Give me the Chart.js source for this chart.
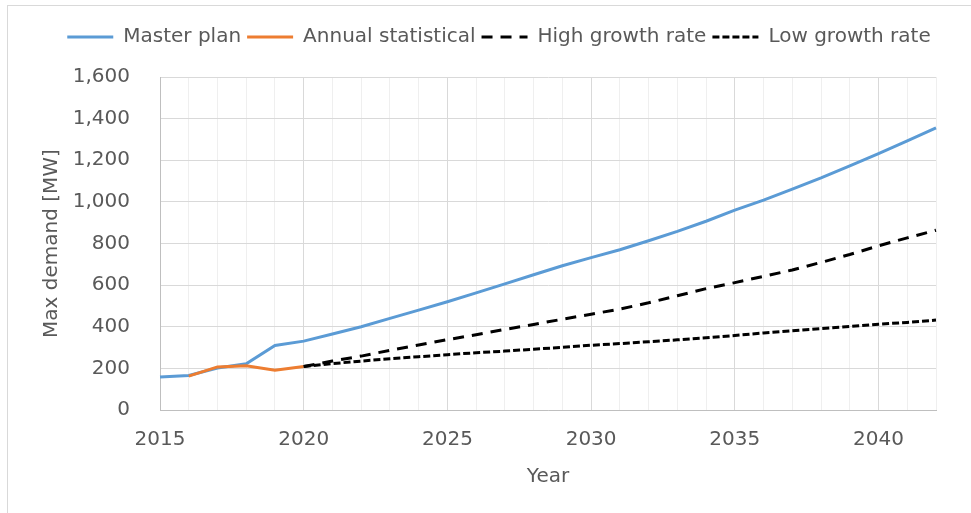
<!DOCTYPE html>
<html>
<head>
<meta charset="utf-8">
<script src="https://cdn.jsdelivr.net/npm/chart.js@4/dist/chart.umd.min.js"></script>
<style>
  html, body { margin: 0; padding: 0; background: #fff; }
  #wrap { position: relative; width: 971px; height: 513px; }
  #frame { position: absolute; left: 7px; top: 5px; width: 980px; height: 520px;
           border-left: 1px solid #d9d9d9; border-top: 1px solid #d9d9d9; pointer-events: none; }
</style>
</head>
<body>
<div id="wrap">
  <canvas id="c" width="971" height="513"></canvas>
  <div id="frame"></div>
</div>
<script>
const years = [2015,2016,2017,2018,2019,2020,2021,2022,2023,2024,2025,2026,2027,2028,
               2029,2030,2031,2032,2033,2034,2035,2036,2037,2038,2039,2040,2041,2042];
const xTickLabels = [2015, 2020, 2025, 2030, 2035, 2040];
const yTicks = [0, 200, 400, 600, 800, 1000, 1200, 1400, 1600];

const masterPlan = [158,166,202,222,310,331,365,400,440,480,520,563,606,650,
                    693,732,770,813,858,907,960,1008,1061,1115,1173,1232,1293,1355];
const annualStatistical = [null,163,207,213,191,209,null,null,null,null,null,null,null,null,
                           null,null,null,null,null,null,null,null,null,null,null,null,null,null];
const highGrowth = [null,null,null,null,null,209,235,259,287,312,338,362,387,411,
                    436,460,485,515,549,583,612,642,673,709,747,789,827,864];
const lowGrowth = [null,null,null,null,null,209,223,235,246,256,266,275,283,292,
                   301,311,319,328,337,347,358,370,381,391,401,412,421,432];

const FONT = "'DejaVu Sans', Verdana, sans-serif";
const TXT = '#595959';

const legendShift = {
  id: 'legendShift',
  afterLayout(chart) {
    const lg = chart.legend;
    if (lg) { lg.top -= 20; lg.bottom -= 20; }
  }
};

new Chart(document.getElementById('c'), {
  type: 'line',
  data: {
    labels: years,
    datasets: [
      { label: 'Master plan', data: masterPlan, borderColor: '#5B9BD5', backgroundColor: '#5B9BD5',
        borderWidth: 3, pointRadius: 0, tension: 0, order: 4 },
      { label: 'Annual statistical', data: annualStatistical, borderColor: '#ED7D31', backgroundColor: '#ED7D31',
        borderWidth: 3, pointRadius: 0, tension: 0, order: 3 },
      { label: 'High growth rate', data: highGrowth, borderColor: '#000000', backgroundColor: '#000000',
        borderWidth: 3, borderDash: [11, 8], pointRadius: 0, tension: 0, order: 2 },
      { label: 'Low growth rate', data: lowGrowth, borderColor: '#000000', backgroundColor: '#000000',
        borderWidth: 3, borderDash: [7, 3], pointRadius: 0, tension: 0, order: 1 }
    ]
  },
  plugins: [legendShift],
  options: {
    responsive: false,
    animation: false,
    spanGaps: false,
    layout: { padding: { left: 27, right: 0, top: 12, bottom: 0 } },
    plugins: {
      legend: {
        position: 'top',
        labels: {
          usePointStyle: true,
          pointStyle: 'line',
          pointStyleWidth: 46,
          padding: 6,
          color: TXT,
          font: { family: FONT, size: 20 },
          sort: (a, b) => a.datasetIndex - b.datasetIndex,
          generateLabels: (chart) => {
            const items = Chart.defaults.plugins.legend.labels.generateLabels(chart);
            items.forEach(it => {
              const ds = chart.data.datasets[it.datasetIndex];
              it.lineDash = ds.borderDash || [];
              it.lineWidth = 3;
              it.strokeStyle = ds.borderColor;
            });
            return items;
          }
        }
      },
      tooltip: { enabled: false }
    },
    scales: {
      x: {
        type: 'category',
        offset: false,
        grid: {
          drawTicks: false,
          color: (ctx) => (ctx.tick && xTickLabels.includes(years[ctx.index])) ? '#d9d9d9' : '#efefef',
          lineWidth: 1
        },
        border: { color: '#bfbfbf', width: 1 },
        ticks: {
          autoSkip: false, maxRotation: 0, minRotation: 0, padding: 18,
          color: TXT, font: { family: FONT, size: 20 },
          callback: function(v, i) { return xTickLabels.includes(years[i]) ? String(years[i]) : ''; }
        },
        title: { display: true, text: 'Year', color: TXT, font: { family: FONT, size: 20 },
                 padding: { top: 0, bottom: 24 } },
        afterFit: (s) => { s.height = 103; s.paddingRight = 35; }
      },
      y: {
        min: 0, max: 1600,
        afterBuildTicks: (s) => { s.ticks = yTicks.map(v => ({ value: v })); },
        grid: { drawTicks: false, color: '#d9d9d9' },
        border: { color: '#bfbfbf', width: 1 },
        ticks: {
          padding: 30, color: TXT, font: { family: FONT, size: 20 },
          callback: (v) => v.toLocaleString('en-US')
        },
        title: { display: true, text: 'Max demand [MW]', color: TXT, font: { family: FONT, size: 20 },
                 padding: { top: 13, bottom: 0 } },
        afterFit: (s) => { s.width = 133; s.paddingTop = 77; }
      }
    }
  }
});
</script>
</body>
</html>
